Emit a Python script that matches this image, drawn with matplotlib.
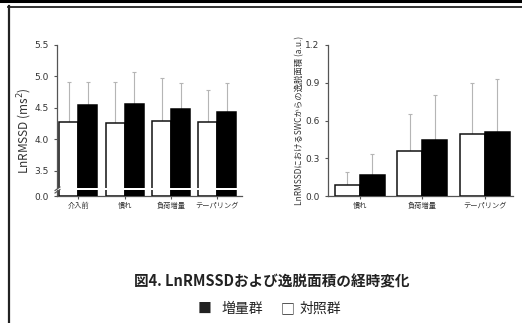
import numpy as np
import matplotlib
matplotlib.use('Agg')
import matplotlib.pyplot as plt
from matplotlib.lines import Line2D

plt.rcParams['font.family'] = ['Noto Sans CJK JP', 'DejaVu Sans']

# LnRMSSD (left panel)
phases_l = ['介入前', '慣れ', '負荷増量', 'テーパリング']
ctrl_l = [4.27, 4.26, 4.30, 4.28]
ctrl_l_sd = [0.65, 0.65, 0.68, 0.51]
inc_l = [4.55, 4.57, 4.49, 4.43]
inc_l_sd = [0.36, 0.50, 0.40, 0.46]

# deviation area from SWC (right panel)
phases_r = ['慣れ', '負荷増量', 'テーパリング']
ctrl_r = [0.09, 0.36, 0.49]
ctrl_r_sd = [0.10, 0.29, 0.41]
inc_r = [0.17, 0.445, 0.51]
inc_r_sd = [0.16, 0.36, 0.42]

W, H = 522, 323
fig = plt.figure(figsize=(W / 100, H / 100), dpi=100)

axc = '#555555'
txc = '#333333'
errc = '#b5b5b5'


def fx(px):
    return px / W


def fy(py):
    return 1 - py / H


def style(ax):
    for s in ['top', 'right']:
        ax.spines[s].set_visible(False)
    for s in ['left', 'bottom']:
        ax.spines[s].set_color(axc)
        ax.spines[s].set_linewidth(0.9)
    ax.tick_params(colors=axc, labelcolor=txc, labelsize=6.5, length=2.5, width=0.8)


def bars(ax, ctrl, ctrl_sd, inc, inc_sd, w, err=True):
    x = np.arange(len(ctrl))
    ax.bar(x - w / 2, ctrl, w, color='white', edgecolor='#111111', linewidth=1.1, zorder=3)
    ax.bar(x + w / 2, inc, w, color='black', edgecolor='black', linewidth=1.1, zorder=3)
    if err:
        ax.errorbar(x - w / 2, ctrl, yerr=[np.zeros(len(ctrl)), ctrl_sd], fmt='none',
                    ecolor=errc, elinewidth=0.8, capsize=1.5, capthick=0.8, zorder=2)
        ax.errorbar(x + w / 2, inc, yerr=[np.zeros(len(inc)), inc_sd], fmt='none',
                    ecolor=errc, elinewidth=0.8, capsize=1.5, capthick=0.8, zorder=2)


# ---- left panel: broken axis ----
wl = 0.41
ax_top = fig.add_axes([fx(57), fy(188), fx(185), (188 - 45) / H])
ax_bot = fig.add_axes([fx(57), fy(196), fx(185), 6 / H])
for ax in (ax_top, ax_bot):
    style(ax)
    bars(ax, ctrl_l, ctrl_l_sd, inc_l, inc_l_sd, wl, err=(ax is ax_top))
    ax.set_xlim(-0.46, 3.53)
ax_top.set_ylim(3.23, 5.5)
ax_top.set_yticks([3.5, 4.0, 4.5, 5.0, 5.5])
ax_top.set_yticklabels(['3.5', '4.0', '4.5', '5.0', '5.5'], family='DejaVu Sans')
ax_top.spines['bottom'].set_visible(False)
ax_top.set_xticks([])
ax_bot.set_ylim(0, 6 / 63)
ax_bot.set_yticks([0])
ax_bot.set_yticklabels(['0.0'], family='DejaVu Sans')
ax_bot.set_xticks(np.arange(len(phases_l)))
ax_bot.set_xticklabels(phases_l, fontsize=5.2)
ax_bot.tick_params(axis='x', length=2, pad=2)
ax_top.set_ylabel('LnRMSSD (ms$^2$)', fontsize=8.5, color=txc)
ax_top.yaxis.set_label_coords(-23 / 185, (188 - 131) / 143)

# break marks
for dy in (0.0, 2.5):
    fig.add_artist(Line2D([fx(55), fx(60)], [fy(190.5 + dy), fy(187 + dy)],
                          color=axc, linewidth=0.8))

# ---- right panel ----
wr = 0.4
ax_r = fig.add_axes([fx(328), fy(196), fx(185), 151 / H])
style(ax_r)
bars(ax_r, ctrl_r, ctrl_r_sd, inc_r, inc_r_sd, wr)
ax_r.set_xlim(-0.51, 2.45)
ax_r.set_ylim(0, 1.2)
ax_r.set_yticks([0, 0.3, 0.6, 0.9, 1.2])
ax_r.set_yticklabels(['0.0', '0.3', '0.6', '0.9', '1.2'], family='DejaVu Sans')
ax_r.set_xticks(np.arange(len(phases_r)))
ax_r.set_xticklabels(phases_r, fontsize=5.2)
ax_r.tick_params(axis='x', length=2, pad=2)
ax_r.set_ylabel('LnRMSSDにおけるSWCからの逸脱面積 (a.u.)', fontsize=6, color=txc)
ax_r.yaxis.set_label_coords(-23.5 / 185, 0.5)

# ---- caption ----
fig.text(fx(272), fy(281), '図4. LnRMSSDおよび逸脱面積の経時変化', ha='center', va='center',
         fontsize=10.5, fontweight='bold', color='#222222')
fig.text(fx(205), fy(309), '■', ha='center', va='center', fontsize=10, color='#222222')
fig.text(fx(222), fy(309), '増量群', ha='left', va='center', fontsize=10, color='#222222')
fig.text(fx(288), fy(309), '□', ha='center', va='center', fontsize=10, color='#222222')
fig.text(fx(300), fy(309), '対照群', ha='left', va='center', fontsize=10, color='#222222')

# ---- frame lines ----
fig.add_artist(Line2D([0, 1], [fy(1), fy(1)], color='black', linewidth=2.2))
fig.add_artist(Line2D([fx(8.5), fx(8.5)], [1, fy(2)], color='black', linewidth=1.2))
fig.add_artist(Line2D([fx(8), 1], [fy(6.5), fy(6.5)], color='#222222', linewidth=1.3))
fig.add_artist(Line2D([fx(9), fx(9)], [fy(6), 0], color='#222222', linewidth=1.6))

fig.savefig('out.png', dpi=100)
